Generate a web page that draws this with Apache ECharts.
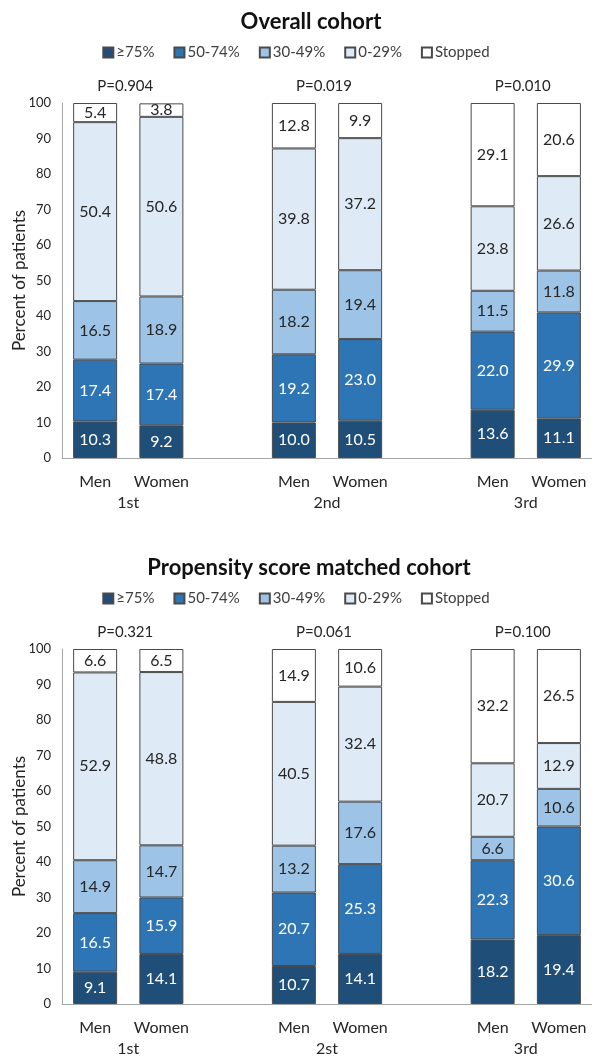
<!DOCTYPE html>
<html>
<head>
<meta charset="utf-8">
<script src="https://cdn.jsdelivr.net/npm/echarts@6/dist/echarts.min.js"></script>
<style>
html,body{margin:0;padding:0;background:#fff;}
#c{width:592px;height:1056px;}
</style>
</head>
<body>
<div id="c"></div>
<script>
// ---- Data ----
const categories = ['Men', 'Women', '', 'Men', 'Women', '', 'Men', 'Women'];
const seriesNames = ['\u226575%', '50-74%', '30-49%', '0-29%', 'Stopped'];
const topGroups = ['1st', '2nd', '3rd'];
const bottomGroups = ['1st', '2st', '3rd'];
const topPValues = ['P=0.904', 'P=0.019', 'P=0.010'];
const bottomPValues = ['P=0.321', 'P=0.061', 'P=0.100'];
const topTitle = 'Overall cohort';
const bottomTitle = 'Propensity score matched cohort';
const yTicks = [0, 10, 20, 30, 40, 50, 60, 70, 80, 90, 100];

// Overall cohort (Men1, Women1, Men2, Women2, Men3, Women3)
const top75 = [10.3, 9.2, 10.0, 10.5, 13.6, 11.1];
const top50 = [17.4, 17.4, 19.2, 23.0, 22.0, 29.9];
const top30 = [16.5, 18.9, 18.2, 19.4, 11.5, 11.8];
const top0 = [50.4, 50.6, 39.8, 37.2, 23.8, 26.6];
const topStopped = [5.4, 3.8, 12.8, 9.9, 29.1, 20.6];

// Propensity score matched cohort
const bot75 = [9.1, 14.1, 10.7, 14.1, 18.2, 19.4];
const bot50 = [16.5, 15.9, 20.7, 25.3, 22.3, 30.6];
const bot30 = [14.9, 14.7, 13.2, 17.6, 6.6, 10.6];
const bot0 = [52.9, 48.8, 40.5, 32.4, 20.7, 12.9];
const botStopped = [6.6, 6.5, 14.9, 10.6, 32.2, 26.5];

// ---- Styling ----
const FONT = 'Lato, "Open Sans", sans-serif';
const TXT = '#262626';
const colors = ['#1F4E79', '#2E75B6', '#9DC3E6', '#DEEBF7', '#FFFFFF'];
const labelColors = ['#FFFFFF', '#FFFFFF', TXT, TXT, TXT];

// expand 6 values into 8 category slots (gaps in slot 2 and 5)
function toSlots(arr) {
  return [arr[0], arr[1], '-', arr[2], arr[3], '-', arr[4], arr[5]];
}

function makeSeries(dataSets, gridIdx, stack) {
  return dataSets.map((d, i) => ({
    name: seriesNames[i],
    type: 'bar',
    stack: stack,
    xAxisIndex: gridIdx,
    yAxisIndex: gridIdx,
    barWidth: 44,
    data: toSlots(d),
    itemStyle: { color: colors[i], borderColor: '#4a4a4a', borderWidth: 1 },
    label: {
      show: true,
      position: 'inside',
      color: labelColors[i],
      fontFamily: FONT,
      fontSize: 16,
      formatter: p => Number(p.value).toFixed(1)
    },
    emphasis: { disabled: true },
    animation: false
  }));
}

const gridTops = [103, 649];
const gridH = 355;

function yAxis(idx) {
  return {
    type: 'value', gridIndex: idx, min: yTicks[0], max: yTicks[yTicks.length - 1], interval: 10,
    name: 'Percent of patients', nameLocation: 'middle', nameGap: 34, nameMoveOverlap: false,
    nameTextStyle: { fontFamily: FONT, fontSize: 17, color: TXT },
    axisLine: { show: true, lineStyle: { color: '#a6a6a6', width: 1 } },
    axisTick: { show: false },
    splitLine: { show: false },
    axisLabel: { fontFamily: FONT, fontSize: 13, color: TXT, margin: 11 }
  };
}
function xAxis(idx) {
  return {
    type: 'category', gridIndex: idx, data: categories,
    axisLine: { show: true, lineStyle: { color: '#a6a6a6', width: 1 } },
    axisTick: { show: false },
    axisLabel: { fontFamily: FONT, fontSize: 16, color: TXT, margin: 16, interval: 0 }
  };
}
function legend(top) {
  return {
    top: top, left: 'center', data: seriesNames,
    padding: [5, 5, 5, 19],
    itemWidth: 10, itemHeight: 10, itemGap: 19,
    icon: 'rect',
    textStyle: { fontFamily: FONT, fontSize: 15, color: '#404040', padding: [0, 0, 0, -2] },
    selectedMode: false
  };
}

const option = {
  backgroundColor: '#fff',
  animation: false,
  title: [
    { text: topTitle, left: 306, textAlign: 'center', top: 6, textStyle: { fontFamily: FONT, fontSize: 22, fontWeight: 'bold', color: '#111' } },
    { text: bottomTitle, left: 304, textAlign: 'center', top: 552, textStyle: { fontFamily: FONT, fontSize: 22, fontWeight: 'bold', color: '#111' } }
  ],
  legend: [legend(40), legend(586)],
  grid: gridTops.map(t => ({ left: 62, right: 0, top: t, height: gridH, containLabel: false, outerBoundsMode: 'none' })),
  xAxis: [xAxis(0), xAxis(1)],
  yAxis: [yAxis(0), yAxis(1)],
  series: [].concat(
    makeSeries([top75, top50, top30, top0, topStopped], 0, 'top'),
    makeSeries([bot75, bot50, bot30, bot0, botStopped], 1, 'bot')
  )
};

const chart = echarts.init(document.getElementById('c'), null, { renderer: 'canvas' });
chart.setOption(option);

// Group labels & P-values positioned through the axes
const graphics = [];
[[topGroups, topPValues, 0], [bottomGroups, bottomPValues, 1]].forEach(([groups, pvals, gi]) => {
  groups.forEach((g, k) => {
    const a = chart.convertToPixel({ xAxisIndex: gi }, k * 3);
    const b = chart.convertToPixel({ xAxisIndex: gi }, k * 3 + 1);
    const cx = (a + b) / 2;
    const y0 = chart.convertToPixel({ yAxisIndex: gi }, 0);
    const y100 = chart.convertToPixel({ yAxisIndex: gi }, 100);
    graphics.push({
      type: 'text', x: cx, y: y0 + 45,
      style: { text: g, fontFamily: FONT, fontSize: 16, fill: TXT, textAlign: 'center', textVerticalAlign: 'middle' }
    });
    graphics.push({
      type: 'text', x: cx - 3, y: y100 - 17,
      style: { text: pvals[k], fontFamily: FONT, fontSize: 15, fill: TXT, textAlign: 'center', textVerticalAlign: 'middle' }
    });
  });
});
chart.setOption({ graphic: graphics });
</script>
</body>
</html>
